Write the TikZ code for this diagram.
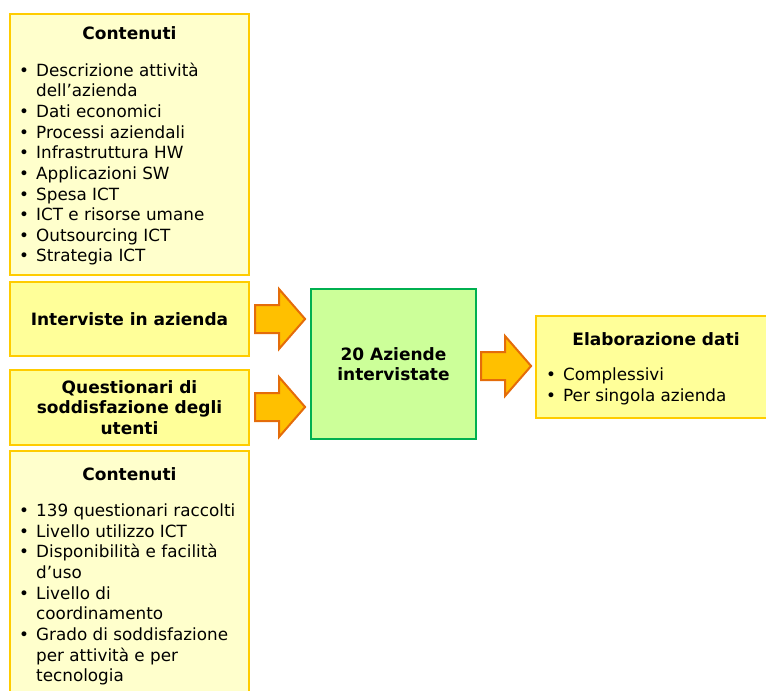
\documentclass[tikz,border=0pt]{standalone}
\usepackage{fontspec}
\setmainfont{DejaVu Sans}
\usetikzlibrary{shapes.arrows}

\definecolor{palebox}{HTML}{FFFFCC}
\definecolor{yellowbox}{HTML}{FFFF99}
\definecolor{goldline}{HTML}{FFCC00}
\definecolor{greenbox}{HTML}{CCFF99}
\definecolor{greenline}{HTML}{00B050}
\definecolor{arrowfill}{HTML}{FFC000}
\definecolor{arrowline}{HTML}{E46C0A}

\newcommand{\bul}{\makebox[17pt][l]{\textbullet}}
\newcommand{\ind}{\hspace*{17pt}}

\tikzset{
  box/.style={draw=goldline, line width=2.5pt, minimum width=239pt, inner sep=0pt},
  title/.style={font=\fontsize{17}{20.6}\selectfont\bfseries, align=center, inner sep=0pt},
  items/.style={font=\fontsize{16.8}{20.65}\selectfont, align=left, inner sep=0pt, anchor=north west},
  fatarrow/.style={single arrow, draw=arrowline, fill=arrowfill, line width=2pt,
    minimum height=50pt, single arrow head extend=16pt,
    single arrow tip angle=98, inner xsep=0pt, inner ysep=13pt}
}

\begin{document}
\begin{tikzpicture}[x=1pt,y=-1pt]
    \useasboundingbox (0,0) rectangle (766,691);
    % left column
    \node[box, fill=palebox, minimum height=261pt] (info) at (129.5,144.5) {};
    \node[box, fill=yellowbox, minimum height=74pt] (interv) at (129.5,319) {};
    \node[box, fill=yellowbox, minimum height=75pt] (quest) at (129.5,407.5) {};
    \node[box, fill=palebox, minimum height=260pt] (qinfo) at (129.5,581) {};
    \node[title] (infohead) at (129.5,33) {Contenuti};
    \node[items] (infolist) at (19,62.5) {\bul Descrizione attività\\ \ind dell’azienda\\ \bul Dati economici\\
      \bul Processi aziendali\\ \bul Infrastruttura HW\\ \bul Applicazioni SW\\ \bul Spesa ICT\\
      \bul ICT e risorse umane\\ \bul Outsourcing ICT\\ \bul Strategia ICT};
    \node[title] (intervtext) at (interv) {Interviste in azienda};
    \node[title] (questtext) at (quest) {Questionari di\\ soddisfazione degli\\ utenti};
    \node[title] (qinfohead) at (129.5,474) {Contenuti};
    \node[items] (qinfolist) at (19,503.5) {\bul 139 questionari raccolti\\ \bul Livello utilizzo ICT\\
      \bul Disponibilità e facilità\\ \ind d’uso\\ \bul Livello di\\ \ind coordinamento\\
      \bul Grado di soddisfazione\\ \ind per attività e per\\ \ind tecnologia};
    % centre
    \node[draw=greenline, fill=greenbox, line width=2.5pt, minimum width=165pt, minimum height=150pt,
      title] (firms) at (393.5,364) {20 Aziende\\ intervistate};
    % right
    \node[draw=goldline, fill=yellowbox, line width=2.5pt, minimum width=240pt, minimum height=102pt,
      inner sep=0pt] (elab) at (656,367) {};
    \node[title] (elabhead) at (656,339) {Elaborazione dati};
    \node[items] (elablist) at (546,367.5) {\bul Complessivi\\ \bul Per singola azienda};
    % arrows
    \node[fatarrow] (a1) at (274,319) {};
    \node[fatarrow] (a2) at (274,407) {};
    \node[fatarrow] (a3) at (500,366) {};
\end{tikzpicture}
\end{document}
